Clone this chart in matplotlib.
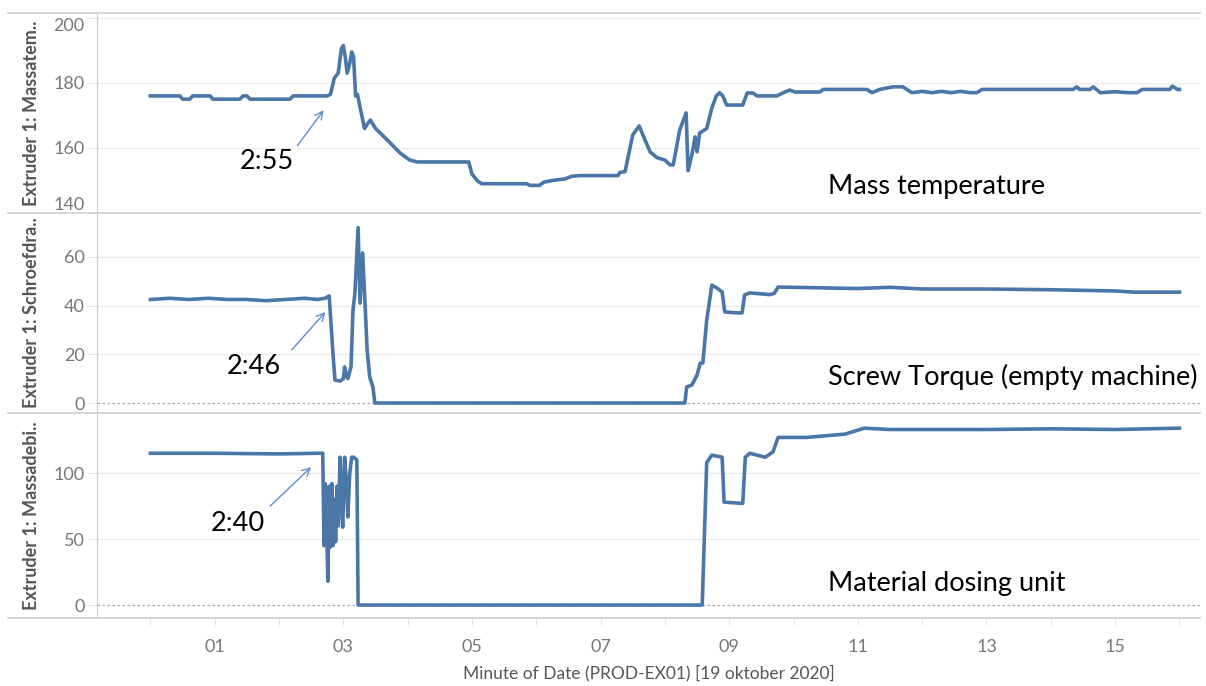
import matplotlib
matplotlib.use("Agg")
import matplotlib.pyplot as plt
from matplotlib.lines import Line2D
from matplotlib.ticker import FixedLocator, FuncFormatter

plt.rcParams['font.family'] = ['Lato', 'DejaVu Sans']

# --- data (minute of day after 0:00, value) ---
temp_t = [0.00, 0.46, 0.50, 0.61, 0.66, 0.93, 0.97, 1.39, 1.44, 1.50, 1.55, 2.17, 2.22, 2.75,
          2.80, 2.86, 2.92, 2.97, 3.00, 3.03, 3.06, 3.10, 3.13, 3.16, 3.19, 3.22, 3.25, 3.33,
          3.38, 3.42, 3.50, 3.68, 3.88, 4.03, 4.15, 4.95, 5.00, 5.08, 5.15, 5.85, 5.90, 6.05,
          6.12, 6.25, 6.45, 6.55, 6.68, 7.27, 7.30, 7.38, 7.50, 7.60, 7.69, 7.77, 7.88, 8.00,
          8.08, 8.13, 8.23, 8.33, 8.36, 8.42, 8.47, 8.50, 8.54, 8.65, 8.73, 8.80, 8.85, 8.90,
          8.96, 9.21, 9.28, 9.37, 9.43, 9.74, 9.84, 9.94, 10.02, 10.41, 10.46, 11.14, 11.22,
          11.34, 11.55, 11.70, 11.84, 12.00, 12.15, 12.30, 12.45, 12.60, 12.75, 12.85, 12.93,
          14.35, 14.40, 14.45, 14.61, 14.66, 14.77, 15.00, 15.20, 15.34, 15.42, 15.85, 15.89,
          15.97, 16.00]
temp_v = [176, 176, 175, 175, 176, 176, 175, 175, 176, 176, 175, 175, 176, 176,
          176.5, 181.5, 183, 190.5, 191.5, 188, 183, 186, 189.5, 188, 176, 176.5, 173.5, 166,
          167.5, 168.6, 166, 162.5, 158.5, 156.3, 155.7, 155.7, 152, 150, 149, 149, 148.5, 148.5,
          149.5, 150, 150.5, 151.3, 151.5, 151.5, 152.5, 152.7, 164, 166.8, 162.5, 158.8, 157, 156.3,
          154.8, 154.8, 165.5, 170.8, 153, 158, 163.4, 158.8, 164.6, 166, 172.3, 176, 177, 176,
          173.2, 173.2, 176.9, 176.9, 176, 176, 177, 177.8, 177.2, 177.2, 178, 178, 177,
          178, 178.8, 178.8, 177, 177.4, 177, 177.4, 177, 177.4, 177, 177, 178,
          178, 178.8, 178, 178, 178.8, 177, 177.3, 177, 177, 178, 178, 179,
          178, 178]

torque_t = [0.00, 0.30, 0.60, 0.90, 1.20, 1.50, 1.80, 2.10, 2.40, 2.60, 2.72, 2.78, 2.84, 2.87,
            2.95, 3.00, 3.02, 3.05, 3.07, 3.12, 3.15, 3.18, 3.23, 3.26, 3.30, 3.34, 3.37, 3.41,
            3.46, 3.49, 8.31, 8.34, 8.42, 8.50, 8.55, 8.59, 8.65, 8.73, 8.81, 8.89, 8.93, 9.12,
            9.20, 9.24, 9.32, 9.63, 9.70, 9.76, 11.00, 11.50, 12.00, 13.00, 14.00, 15.00, 15.30,
            16.00]
torque_v = [42.5, 43, 42.5, 43, 42.5, 42.5, 42, 42.5, 43, 42.5, 43, 44, 20, 9.4,
            9, 10, 14.8, 11, 10, 15, 38, 45, 72, 41, 61.6, 39.4, 21.8, 10.7,
            6.6, 0, 0, 6.6, 7.4, 11.5, 16.4, 16.4, 34, 48.4, 47.2, 45.6, 37.4, 37,
            37, 44.4, 45.2, 44.5, 45, 47.6, 47, 47.5, 46.8, 46.8, 46.5, 46, 45.5,
            45.5]

dosing_t = [0.00, 1.00, 2.00, 2.60, 2.68, 2.70, 2.72, 2.74, 2.76, 2.78, 2.80, 2.82, 2.84, 2.86,
            2.88, 2.90, 2.92, 2.95, 2.97, 2.99, 3.02, 3.05, 3.07, 3.10, 3.13, 3.16, 3.21, 3.23,
            8.58, 8.65, 8.73, 8.89, 8.92, 9.21, 9.25, 9.32, 9.56, 9.68, 9.76, 10.20, 10.80,
            11.10, 11.50, 13.00, 14.00, 15.00, 16.00]
dosing_v = [115, 115, 114.5, 115, 115, 45, 92, 60, 18, 90, 44, 92, 45, 80,
            48, 90, 60, 112, 80, 59, 112, 90, 66.7, 100, 112, 112, 110, 0,
            0, 108, 113.6, 112, 78, 77, 112, 115, 112, 116, 127, 127, 129.5,
            134, 133, 133, 133.5, 133, 134]

panels = [
    dict(t=temp_t, v=temp_v, ylim=(140, 201.5), ticks=[140, 160, 180, 200],
         ylabel='Extruder 1: Massatem..', name='Mass temperature', name_y=148,
         stamp='2:55', stamp_xy=(1.81, 155.7), tail=(2.26, 160), head=(2.72, 172.3),
         top=13, bottom=213, zero=False),
    dict(t=torque_t, v=torque_v, ylim=(-4.1, 78), ticks=[0, 20, 40, 60],
         ylabel='Extruder 1: Schroefdra..', name='Screw Torque (empty machine)', name_y=10.7,
         stamp='2:46', stamp_xy=(1.61, 14.8), tail=(2.17, 21), head=(2.75, 38.2),
         top=213, bottom=413, zero=True),
    dict(t=dosing_t, v=dosing_v, ylim=(-9.8, 145.5), ticks=[0, 50, 100],
         ylabel='Extruder 1: Massadebi..', name='Material dosing unit', name_y=16.7,
         stamp='2:40', stamp_xy=(1.36, 62), tail=(1.83, 73.5), head=(2.53, 106),
         top=413, bottom=618, zero=True),
]

W, H = 1206, 686
fig = plt.figure(figsize=(W / 100, H / 100), dpi=100)
line_col = '#4a76a8'
grid_col = '#ececec'
tick_col = '#777777'

axes = []
for i, p in enumerate(panels):
    ax = fig.add_axes([97 / W, 1 - p['bottom'] / H, (1200 - 97) / W, (p['bottom'] - p['top']) / H])
    axes.append(ax)
    ax.plot(p['t'], p['v'], color=line_col, lw=2.6, solid_joinstyle='round', zorder=3)
    ax.set_xlim(-0.83, 16.32)
    ax.set_ylim(*p['ylim'])
    ax.yaxis.set_major_locator(FixedLocator(p['ticks']))
    ax.grid(axis='y', color=grid_col, lw=1)
    if p['zero']:
        ax.axhline(0, color='#aaaaaa', lw=0.9, ls=(0, (2, 2)), zorder=2)
        ax.yaxis.get_gridlines()[0].set_visible(False)
    for s in ['top', 'right', 'bottom']:
        ax.spines[s].set_visible(False)
    ax.spines['left'].set_color('#cccccc')
    ax.tick_params(axis='y', length=7, color='#e6e6e6', pad=2, labelsize=13, labelcolor=tick_col)
    ax.set_ylabel(p['ylabel'], fontsize=13, color='#555555', fontweight='bold')
    ax.yaxis.set_label_coords(-0.052, 0.5)
    labels = ax.get_yticklabels()
    if i == 0:
        labels[0].set_va('bottom')
        labels[-1].set_va('top')
    ax.xaxis.set_major_locator(FixedLocator(range(0, 17)))
    if i < 2:
        ax.tick_params(axis='x', bottom=False, labelbottom=False)
    else:
        ax.xaxis.set_major_formatter(FuncFormatter(lambda x, pos: '%02d' % x if int(x) % 2 == 1 else ''))
        ax.tick_params(axis='x', length=5, color='#e6e6e6', pad=10, labelsize=13, labelcolor=tick_col)
        ax.set_xlabel('Minute of Date (PROD-EX01) [19 oktober 2020]', fontsize=12.5,
                      color='#555555', labelpad=7)

    # callouts
    ax.text(p['stamp_xy'][0], p['stamp_xy'][1], p['stamp'], fontsize=19.5, color='black',
            ha='center', va='center')
    ax.annotate('', xy=p['head'], xytext=p['tail'],
                arrowprops=dict(arrowstyle='->', color='#5b8fd0', lw=1, mutation_scale=14))
    ax.text(10.54, p['name_y'], p['name'], fontsize=19.5, color='black', ha='left', va='center')

# panel separators spanning into the label area
for y in [13, 213, 413, 618]:
    fig.add_artist(Line2D([8 / W, 1200 / W], [1 - y / H, 1 - y / H], color='#d0d0d0', lw=1.2))

fig.savefig('out.png', dpi=100)
